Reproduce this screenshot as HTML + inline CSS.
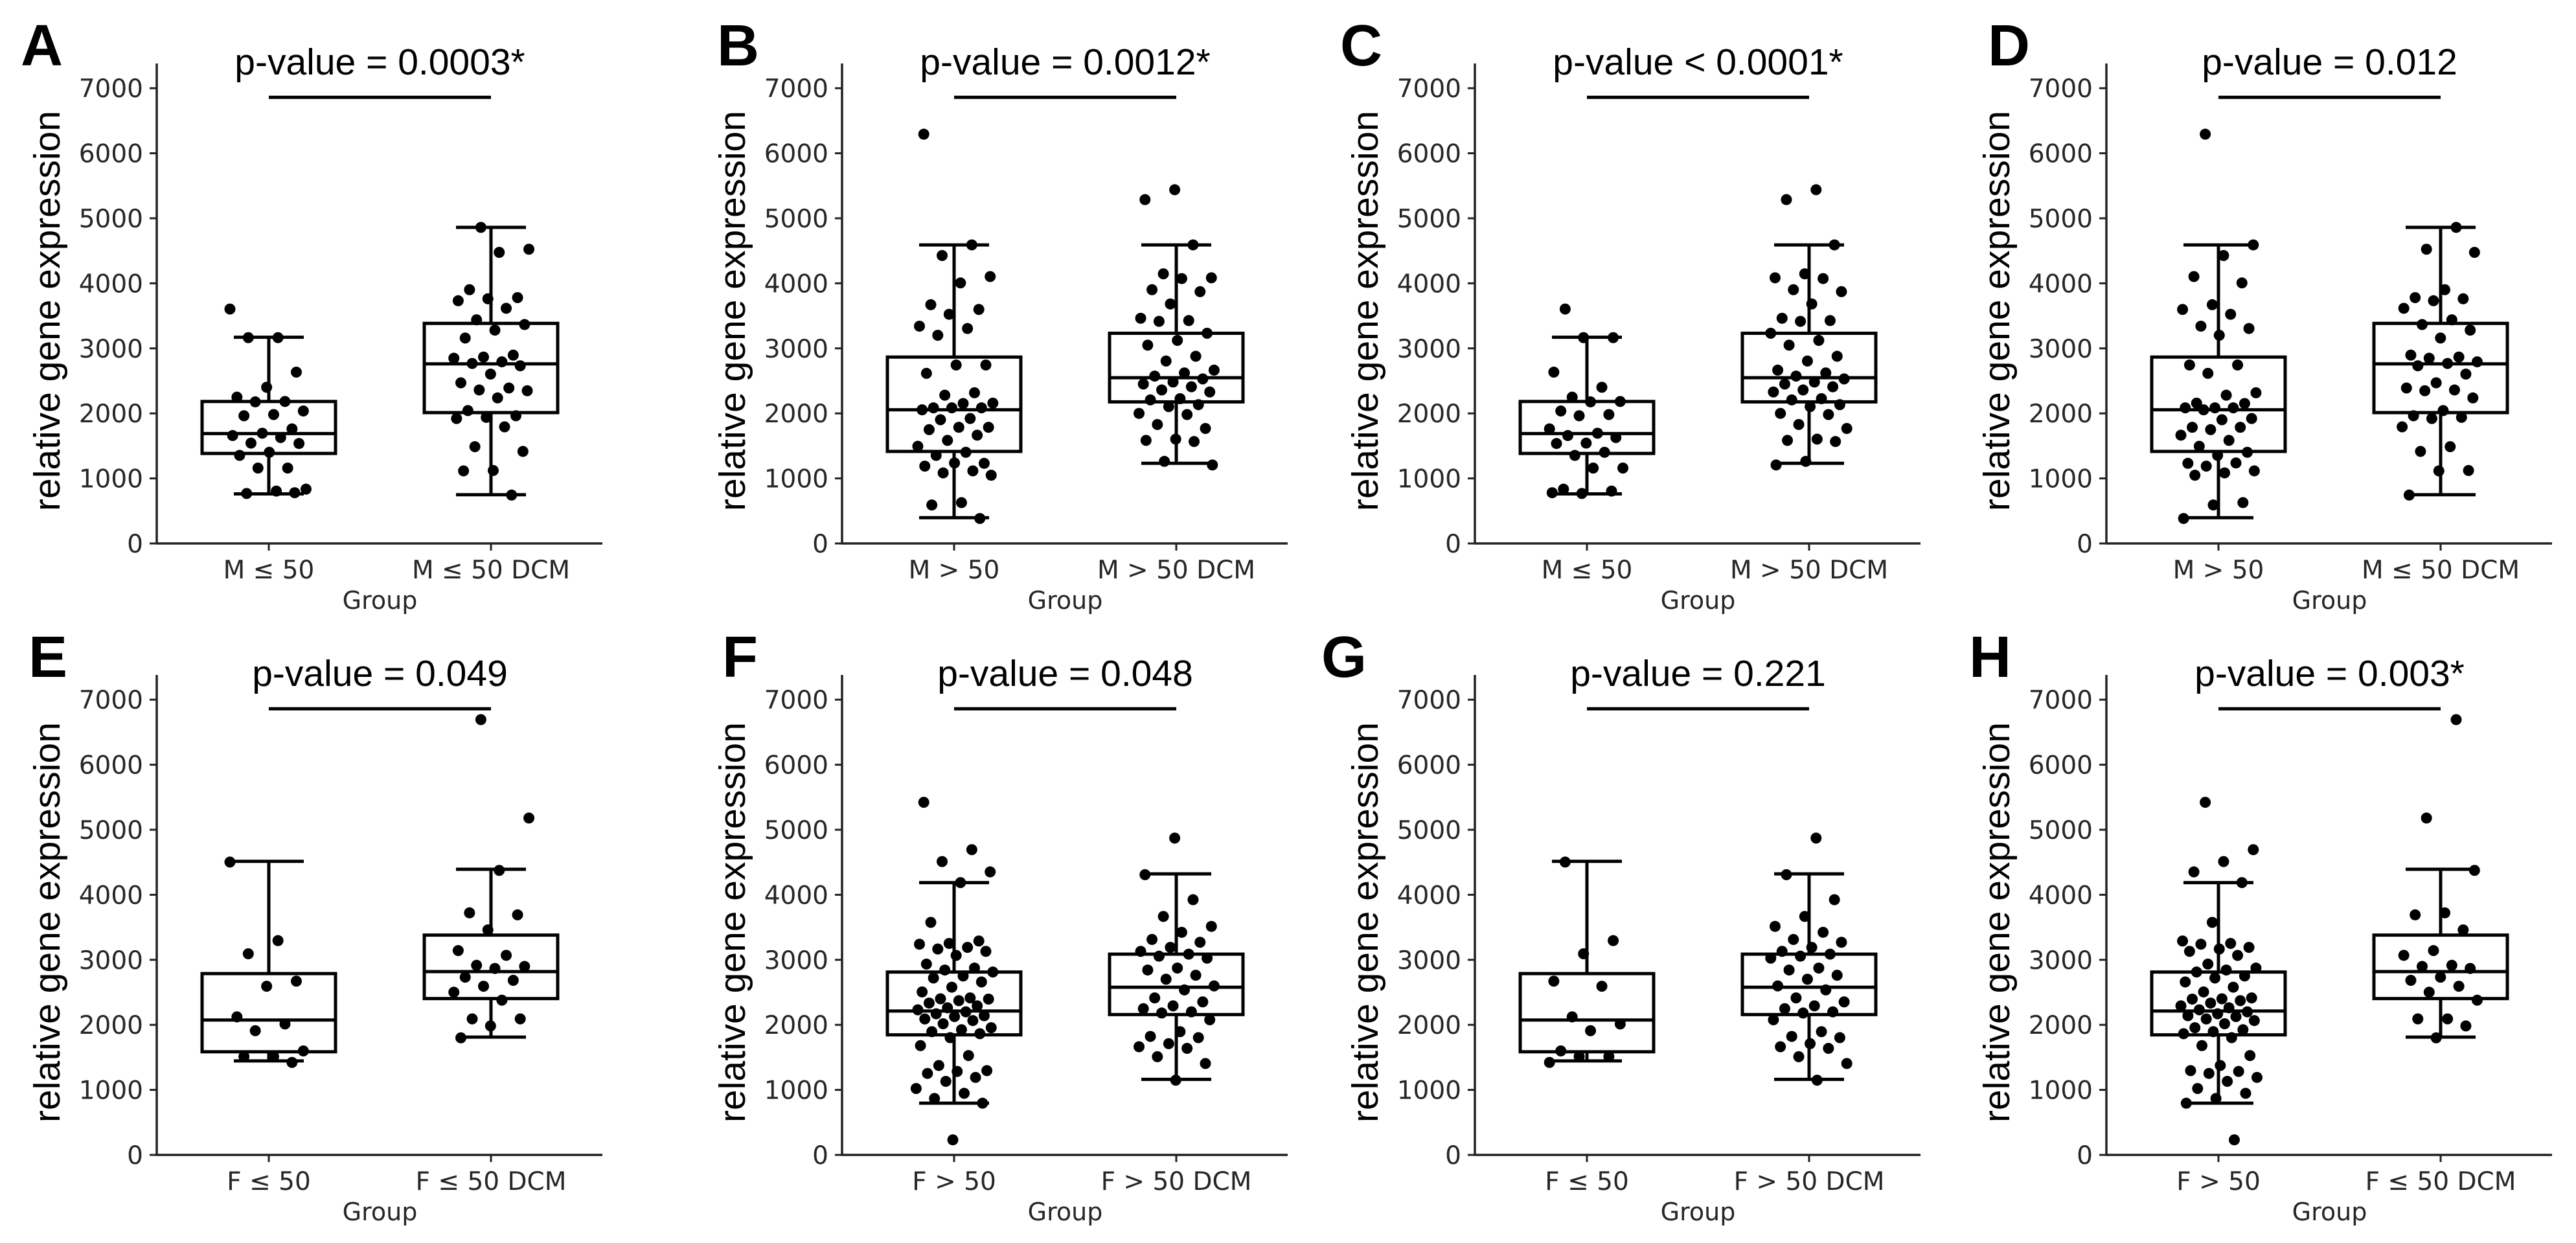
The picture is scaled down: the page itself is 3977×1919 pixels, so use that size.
<!DOCTYPE html>
<html><head><meta charset="utf-8"><style>
html,body{margin:0;padding:0;background:#fff;}
svg{display:block;}
</style></head><body>
<svg id="fig" width="3977" height="1919" viewBox="0 0 3977 1919" xmlns="http://www.w3.org/2000/svg"></svg>
<script>
// ---- data ----
const yTicks = [0,1000,2000,3000,4000,5000,6000,7000];
const ptsMle50 = [3604,3165,3165,2634,2402,2250,2183,2177,2037,1982,1963,1762,1695,1659,1628,1543,1537,1402,1354,1159,1159,835,805,768,780];
const boxMle50 = [762,1384,1689,2183,3171];
const ptsMle50DCM = [4860,4524,4476,3902,3780,3762,3732,3616,3439,3366,3280,3159,2896,2866,2848,2793,2768,2732,2604,2470,2390,2360,2348,2238,2043,1963,1939,1921,1793,1488,1415,1122,1116,744];
const boxMle50DCM = [750,2012,2762,3384,4860];
const ptsMgt50 = [6293,4591,4427,4104,4006,3671,3598,3524,3341,3305,3201,2744,2744,2616,2317,2280,2158,2152,2085,2085,2085,2055,1921,1902,1786,1786,1750,1665,1585,1494,1402,1354,1232,1238,1189,1116,1085,1049,628,591,384];
const boxMgt50 = [396,1415,2055,2866,4591];
const ptsMgt50DCM = [5439,5287,4591,4146,4085,4073,3902,3872,3683,3463,3427,3415,3232,3122,3049,2878,2805,2665,2622,2573,2530,2482,2451,2409,2360,2329,2226,2207,2134,2104,2000,1982,1829,1768,1604,1585,1567,1262,1207];
const boxMgt50DCM = [1232,2177,2549,3232,4591];
const ptsFle50 = [4503,3295,3093,2672,2593,2123,2013,1910,1599,1513,1513,1422];
const boxFle50 = [1446,1586,2074,2788,4515];
const ptsFle50DCM = [6693,5180,4375,3722,3691,3460,3142,3069,2916,2898,2867,2733,2684,2593,2502,2379,2092,2092,1983,1800];
const boxFle50DCM = [1812,2404,2819,3380,4393];
const ptsFgt50 = [5422,4694,4511,4352,4187,3576,3289,3252,3240,3191,3166,3130,3068,2934,2873,2843,2812,2751,2720,2659,2579,2506,2414,2400,2396,2372,2335,2292,2262,2231,2200,2170,2140,2127,2090,2066,2017,1956,1925,1895,1864,1803,1681,1528,1375,1296,1284,1253,1192,1131,1021,947,868,795,232];
const boxFgt50 = [795,1846,2213,2812,4187];
const ptsFgt50DCM = [4872,4309,3924,3667,3514,3423,3313,3270,3191,3130,3087,3056,3025,2873,2843,2763,2702,2598,2537,2414,2353,2292,2249,2200,2182,2078,1895,1822,1803,1711,1663,1638,1510,1406,1149];
const boxFgt50DCM = [1161,2158,2579,3087,4322];
const panelLetters = ['A','B','C','D','E','F','G','H'];
const pLabels = ['p-value = 0.0003*','p-value = 0.0012*','p-value < 0.0001*','p-value = 0.012','p-value = 0.049','p-value = 0.048','p-value = 0.221','p-value = 0.003*'];
const catLabels = [['M ≤ 50','M ≤ 50 DCM'],['M > 50','M > 50 DCM'],['M ≤ 50','M > 50 DCM'],['M > 50','M ≤ 50 DCM'],['F ≤ 50','F ≤ 50 DCM'],['F > 50','F > 50 DCM'],['F ≤ 50','F > 50 DCM'],['F > 50','F ≤ 50 DCM']];
const bracketValue = 6860;

// ---- layout ----
const groups = [
 [[ptsMle50,boxMle50],[ptsMle50DCM,boxMle50DCM]],
 [[ptsMgt50,boxMgt50],[ptsMgt50DCM,boxMgt50DCM]],
 [[ptsMle50,boxMle50],[ptsMgt50DCM,boxMgt50DCM]],
 [[ptsMgt50,boxMgt50],[ptsMle50DCM,boxMle50DCM]],
 [[ptsFle50,boxFle50],[ptsFle50DCM,boxFle50DCM]],
 [[ptsFgt50,boxFgt50],[ptsFgt50DCM,boxFgt50DCM]],
 [[ptsFle50,boxFle50],[ptsFgt50DCM,boxFgt50DCM]],
 [[ptsFgt50,boxFgt50],[ptsFle50DCM,boxFle50DCM]]
];
const axisXs = [242,1300,2277,3252];
const letterXs = [32,1107,2069,3069,44,1115,2040,3040];
const rowY0 = [839,1783];
const PXK = 100.4/1000;
const NS='http://www.w3.org/2000/svg';
const svg=document.getElementById('fig');
function mk(tag,attrs,parent){const e=document.createElementNS(NS,tag);for(const k in attrs)e.setAttribute(k,attrs[k]);(parent||svg).appendChild(e);return e;}

for(let p=0;p<8;p++){
  const row=Math.floor(p/4), col=p%4;
  const ax=axisXs[col], y0=rowY0[row];
  const yS=v=>y0-v*PXK;
  const xS=i=>ax+173+i*343;
  const g=mk('g',{});
  
  
  // letter
  const L=mk('text',{x:letterXs[p],y:y0-738,'font-family':'Liberation Sans, sans-serif','font-weight':'bold','font-size':90,fill:'#000'},g);
  L.textContent=panelLetters[p];
  
  
  // axes
  const ya=mk('line',{x1:ax,y1:y0+1.5,x2:ax,y2:y0-741,stroke:'#222','stroke-width':3.5},g);
  
  
  const xa=mk('line',{x1:ax-1.5,y1:y0,x2:ax+688,y2:y0,stroke:'#222','stroke-width':3.5},g);
  
  
  for(const t of yTicks){
    const y=yS(t);
    mk('line',{x1:ax-11,y1:y,x2:ax,y2:y,stroke:'#222','stroke-width':3},g);
    const tl=mk('text',{x:ax-21,y:y+14,'text-anchor':'end','font-family':'DejaVu Sans, sans-serif','font-size':39,fill:'#262626'},g);
    tl.textContent=t;
    
    
  }
  const yt=mk('text',{x:0,y:0,'text-anchor':'middle','font-family':'Liberation Sans, sans-serif','font-size':57,fill:'#000',transform:`translate(${ax-150},${y0-359}) rotate(-90)`},g);
  yt.textContent='relative gene expression';
  
  
  for(let i=0;i<2;i++){
    const cx=xS(i);
    mk('line',{x1:cx,y1:y0,x2:cx,y2:y0+11,stroke:'#222','stroke-width':3},g);
    const xl=mk('text',{x:cx,y:y0+54,'text-anchor':'middle','font-family':'DejaVu Sans, sans-serif','font-size':39,fill:'#262626'},g);
    xl.textContent=catLabels[p][i];
    
    
    const [pts,st]=groups[p][i];
    const bg=mk('g',{fill:'none',stroke:'#000','stroke-width':5},g);
    
    
    mk('line',{x1:cx,y1:yS(st[0]),x2:cx,y2:yS(st[1])},bg);
    mk('line',{x1:cx,y1:yS(st[3]),x2:cx,y2:yS(st[4])},bg);
    mk('line',{x1:cx-54,y1:yS(st[0]),x2:cx+54,y2:yS(st[0])},bg);
    mk('line',{x1:cx-54,y1:yS(st[4]),x2:cx+54,y2:yS(st[4])},bg);
    mk('rect',{x:cx-103,y:yS(st[3]),width:206,height:yS(st[1])-yS(st[3])},bg);
    mk('line',{x1:cx-103,y1:yS(st[2]),x2:cx+103,y2:yS(st[2])},bg);
    pts.forEach((v,k)=>{
      const fr=((k*0.618034+i*0.37+col*0.11)%1)-0.5;
      const c=mk('circle',{cx:cx+fr*120,cy:yS(v),r:8.5,fill:'#000'},g);
      
      
    });
  }
  const gl=mk('text',{x:(xS(0)+xS(1))/2,y:y0+101,'text-anchor':'middle','font-family':'DejaVu Sans, sans-serif','font-size':38,fill:'#262626'},g);
  gl.textContent='Group';
  
  
  const br=mk('line',{x1:xS(0),y1:yS(bracketValue),x2:xS(1),y2:yS(bracketValue),stroke:'#000','stroke-width':5},g);
  
  
  const pt=mk('text',{x:(xS(0)+xS(1))/2,y:y0-724,'text-anchor':'middle','font-family':'Liberation Sans, sans-serif','font-size':57,fill:'#000'},g);
  pt.textContent=pLabels[p];
  
  
}
</script>
</body></html>
